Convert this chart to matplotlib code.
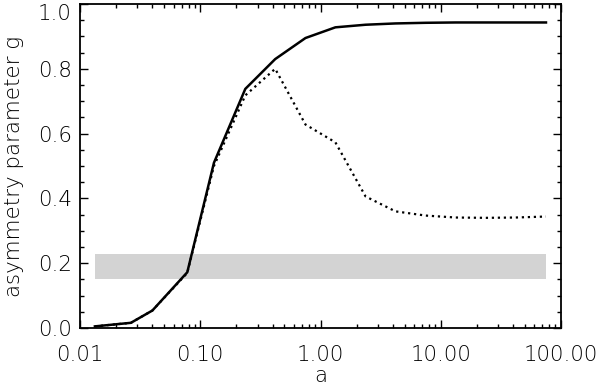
import matplotlib
matplotlib.use("Agg")
import matplotlib.pyplot as plt
from matplotlib.ticker import LogLocator, MultipleLocator, NullFormatter

# Data
x_solid = [0.0133, 0.0265, 0.040, 0.078, 0.130, 0.237, 0.42, 0.75, 1.33,
           2.37, 4.2, 7.5, 13.3, 23.7, 42.0, 75.0]
g_solid = [0.005, 0.016, 0.054, 0.172, 0.510, 0.738, 0.830, 0.895, 0.928,
           0.936, 0.940, 0.942, 0.943, 0.943, 0.943, 0.943]

x_dot = [0.0133, 0.0265, 0.040, 0.078, 0.130, 0.237, 0.42, 0.75, 1.33,
         2.37, 4.2, 7.5, 13.3, 23.7, 42.0, 75.0]
g_dot = [0.005, 0.016, 0.054, 0.170, 0.500, 0.718, 0.800, 0.628, 0.573,
         0.406, 0.360, 0.347, 0.341, 0.340, 0.341, 0.344]

band_x = [0.0133, 75.0]
band_low, band_high = 0.150, 0.227

xtick_vals = [0.01, 0.1, 1.0, 10.0, 100.0]
xtick_labels = ["0.01", "0.10", "1.00", "10.00", "100.00"]
ytick_vals = [0.0, 0.2, 0.4, 0.6, 0.8, 1.0]
ytick_labels = ["0.0", "0.2", "0.4", "0.6", "0.8", "1.0"]

fs = 15.4
plt.rcParams['font.family'] = ['DejaVu Sans']
plt.rcParams['font.weight'] = 'light'
plt.rcParams['axes.labelweight'] = 'light'

fig = plt.figure(figsize=(6.0, 3.89), dpi=100)
ax = fig.add_axes([80/600, 1-328/389, 481/600, 324/389])

ax.fill_between(band_x, band_low, band_high, color="#d3d3d3", linewidth=0, zorder=1)
ax.plot(x_dot, g_dot, color="black", linewidth=1.6, linestyle=(0, (1, 1.7)),
        dash_capstyle="butt", zorder=2)
ax.plot(x_solid, g_solid, color="black", linewidth=1.8, zorder=3)

ax.set_xscale("log")
ax.set_xlim(0.01, 100)
ax.set_ylim(0, 1)

ax.set_xticks(xtick_vals)
ax.set_xticklabels(xtick_labels)
ax.xaxis.set_minor_locator(LogLocator(base=10, subs=range(2, 10), numticks=20))
ax.xaxis.set_minor_formatter(NullFormatter())
ax.set_yticks(ytick_vals)
ax.set_yticklabels(ytick_labels)
ax.yaxis.set_minor_locator(MultipleLocator(0.05))

ax.tick_params(which="both", direction="in", top=True, right=True, labelsize=fs,
               color="black", width=1.0)
ax.tick_params(which="major", length=6)
ax.tick_params(which="minor", length=3)
ax.tick_params(axis="x", which="major", pad=12)
ax.tick_params(axis="y", which="major", pad=6)

# top y label sits just below the upper spine, as in the reference
ax.get_yticklabels()[-1].set_verticalalignment("top")

for s in ax.spines.values():
    s.set_linewidth(1.3)

ax.set_xlabel("a", fontsize=fs, fontweight="light", labelpad=1)
ax.set_ylabel("asymmetry parameter g", fontsize=fs, fontweight="light", labelpad=10)

fig.savefig("out.png", dpi=100)
